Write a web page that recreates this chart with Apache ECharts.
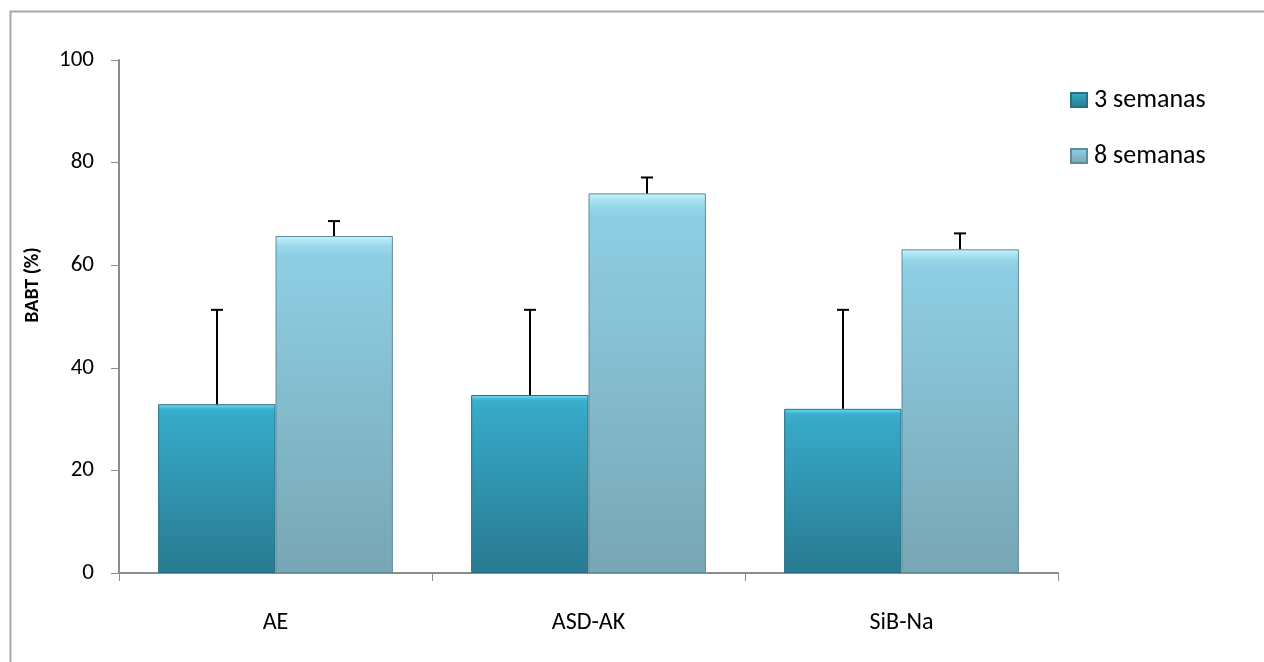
<!DOCTYPE html>
<html>
<head>
<meta charset="utf-8">
<script src="https://cdn.jsdelivr.net/npm/echarts@6/dist/echarts.min.js"></script>
<style>html,body{margin:0;padding:0;background:#fff}#c{width:1264px;height:662px}</style>
</head>
<body>
<div id="c"></div>
<script>
const categories = ['AE', 'ASD-AK', 'SiB-Na'];
const seriesNames = ['3 semanas', '8 semanas'];
const weeks3 = [32.9, 34.7, 32.0];
const weeks8 = [65.7, 74.0, 63.1];
const err3 = [18.4, 16.6, 19.3];
const err8 = [2.9, 3.1, 3.1];
const yTicks = [0, 20, 40, 60, 80, 100];
const yTitle = 'BABT (%)';

const FONT = 'Carlito, Lato, "Liberation Sans", sans-serif';
const CAT_GAP = 0.25;

function grad(stops) {
  return new echarts.graphic.LinearGradient(0, 0, 0, 1,
    stops.map(s => ({ offset: s[0], color: s[1] })));
}

function errSeries(vals, errs, sign) {
  return {
    type: 'custom',
    silent: true,
    z: 10,
    data: vals.map((v, i) => [i, v, v + errs[i]]),
    renderItem: function (params, api) {
      const idx = api.value(0);
      const base = api.coord([idx, api.value(1)]);
      const top = api.coord([idx, api.value(2)]);
      const band = api.size([1, 0])[0];
      const off = sign * band * (1 - CAT_GAP) / 4;
      const x = Math.round(base[0] + off);
      const cap = 6;
      return {
        type: 'group',
        children: [
          { type: 'line', shape: { x1: x, y1: base[1], x2: x, y2: top[1] }, style: { stroke: '#000', lineWidth: 2 } },
          { type: 'line', shape: { x1: x - cap, y1: top[1], x2: x + cap, y2: top[1] }, style: { stroke: '#000', lineWidth: 2 } }
        ]
      };
    }
  };
}

const chart = echarts.init(document.getElementById('c'));
chart.setOption({
  animation: false,
  textStyle: { fontFamily: FONT },
  graphic: [
    {
      type: 'rect', shape: { x: 10.5, y: 11.5, width: 1400, height: 800 },
      style: { fill: 'none', stroke: '#a6a6a6', lineWidth: 2 }, silent: true, z: -1
    },
    {
      type: 'text', x: 33, y: 285, rotation: Math.PI / 2, silent: true,
      style: {
        text: yTitle, font: 'bold 20px ' + FONT, fill: '#000',
        textAlign: 'center', textVerticalAlign: 'middle'
      }
    }
  ],
  grid: { left: 119, right: 206, top: 60, bottom: 89 },
  legend: {
    orient: 'vertical', left: 1065, top: 82,
    itemWidth: 16, itemHeight: 14, itemGap: 30, icon: 'rect',
    textStyle: { fontSize: 26, color: '#000', fontFamily: FONT, padding: [0, 0, 0, 2] },
    data: seriesNames
  },
  xAxis: {
    type: 'category', data: categories,
    axisLine: { lineStyle: { color: '#8c8c8c', width: 2 } },
    axisTick: { show: true, length: 8, lineStyle: { color: '#8c8c8c' }, alignWithLabel: false },
    axisLabel: { fontSize: 24, color: '#000', margin: 38, fontFamily: FONT }
  },
  yAxis: {
    type: 'value', min: yTicks[0], max: yTicks[yTicks.length - 1], interval: 20,
    axisLine: { show: true, lineStyle: { color: '#8c8c8c', width: 2 } },
    axisTick: { show: true, length: 8, lineStyle: { color: '#8c8c8c' } },
    splitLine: { show: false },
    axisLabel: { fontSize: 23, color: '#000', margin: 25, fontFamily: FONT }
  },
  series: [
    {
      name: seriesNames[0], type: 'bar', data: weeks3,
      barGap: '0%', barCategoryGap: (CAT_GAP * 100) + '%',
      itemStyle: {
        color: grad([[0, '#6fe0f5'], [0.03, '#3ab0cf'], [0.08, '#37a9c8'], [1, '#287a90']]),
        borderColor: '#2a6f82', borderWidth: 1
      }
    },
    {
      name: seriesNames[1], type: 'bar', data: weeks8,
      barGap: '0%', barCategoryGap: (CAT_GAP * 100) + '%',
      itemStyle: {
        color: grad([[0, '#c8f3fb'], [0.03, '#9ad9ec'], [0.06, '#8ecee4'], [1, '#78a6b4']]),
        borderColor: '#5f8c99', borderWidth: 1
      }
    },
    errSeries(weeks3, err3, -1),
    errSeries(weeks8, err8, 1)
  ]
});
</script>
</body>
</html>
